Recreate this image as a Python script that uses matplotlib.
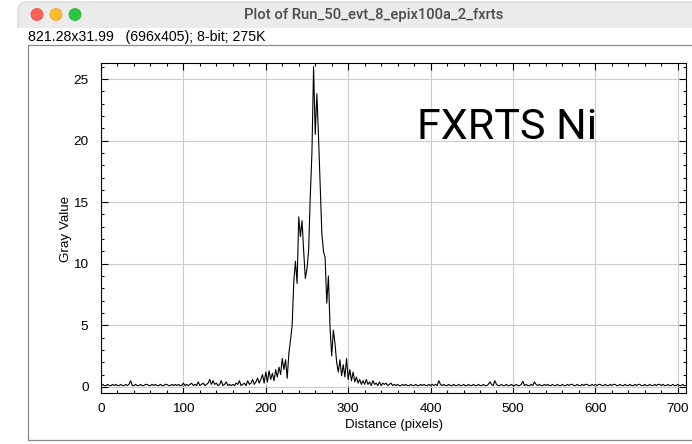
"""
ImageJ-style profile plot window: Run_50_evt_8_epix100a_2_fxrts (FXRTS Ni).
"""

import matplotlib
matplotlib.use("Agg")
import matplotlib.pyplot as plt
import numpy as np
from matplotlib.patches import Rectangle, Circle, FancyBboxPatch
from matplotlib.ticker import MultipleLocator

W, H, DPI = 692, 444, 100

# --- profile data (every 2 px) ---
distance = np.arange(0, 712, 2)
gray_value = [
    0.1, 0.2, 0.1, 0.1, 0.2, 0.1, 0.1, 0.2, 0.1, 0.2, 0.1, 0.1, 0.2, 0.1, 0.1, 0.2, 0.1, 0.2, 0.5, 0.1,
    0.1, 0.2, 0.1, 0.1, 0.2, 0.1, 0.1, 0.2, 0.2, 0.1, 0.1, 0.2, 0.1, 0.2, 0.1, 0.1, 0.2, 0.1, 0.1, 0.2,
    0.2, 0.1, 0.1, 0.2, 0.1, 0.2, 0.1, 0.2, 0.1, 0.1, 0.3, 0.1, 0.2, 0.1, 0.2, 0.3, 0.1, 0.2, 0.1, 0.4,
    0.1, 0.2, 0.3, 0.1, 0.2, 0.3, 0.6, 0.2, 0.5, 0.2, 0.3, 0.1, 0.2, 0.5, 0.1, 0.2, 0.4, 0.1, 0.2, 0.1,
    0.2, 0.1, 0.3, 0.2, 0.5, 0.1, 0.2, 0.3, 0.1, 0.5, 0.2, 0.3, 0.6, 0.2, 0.4, 0.7, 0.3, 0.6, 1.0, 0.3,
    1.2, 0.4, 1.3, 0.6, 1.1, 0.5, 1.4, 0.8, 1.6, 1.0, 2.3, 1.4, 2.2, 0.7, 2.7, 3.8, 5.0, 8.6, 10.2, 8.4,
    13.8, 12.2, 13.5, 11.0, 8.8, 9.6, 11.1, 15.5, 19.0, 26.0, 20.5, 23.8, 20.3, 16.5, 12.5, 11.0, 10.5, 6.8, 9.0, 4.8,
    2.5, 4.6, 3.5, 2.0, 1.2, 2.2, 0.9, 1.8, 0.8, 2.3, 0.6, 1.4, 0.5, 1.2, 0.4, 0.8, 0.3, 0.6, 0.2, 0.5,
    0.2, 0.6, 0.2, 0.4, 0.1, 0.5, 0.2, 0.3, 0.1, 0.4, 0.1, 0.3, 0.2, 0.3, 0.1, 0.2, 0.3, 0.1, 0.2, 0.1,
    0.2, 0.1, 0.1, 0.2, 0.1, 0.2, 0.1, 0.1, 0.2, 0.1, 0.1, 0.2, 0.1, 0.1, 0.2, 0.1, 0.2, 0.1, 0.1, 0.2,
    0.1, 0.2, 0.1, 0.2, 0.1, 0.5, 0.2, 0.1, 0.2, 0.1, 0.1, 0.2, 0.1, 0.1, 0.2, 0.1, 0.1, 0.2, 0.1, 0.1,
    0.2, 0.1, 0.1, 0.2, 0.1, 0.1, 0.2, 0.1, 0.1, 0.2, 0.1, 0.1, 0.2, 0.1, 0.1, 0.2, 0.4, 0.2, 0.1, 0.5,
    0.2, 0.1, 0.1, 0.2, 0.1, 0.1, 0.2, 0.1, 0.1, 0.2, 0.1, 0.1, 0.2, 0.1, 0.1, 0.2, 0.45, 0.1, 0.2, 0.1,
    0.1, 0.2, 0.1, 0.4, 0.2, 0.1, 0.2, 0.1, 0.1, 0.2, 0.1, 0.2, 0.1, 0.1, 0.2, 0.1, 0.1, 0.2, 0.1, 0.1,
    0.2, 0.1, 0.1, 0.2, 0.1, 0.2, 0.2, 0.1, 0.1, 0.2, 0.1, 0.1, 0.2, 0.1, 0.2, 0.2, 0.1, 0.1, 0.2, 0.1,
    0.2, 0.1, 0.2, 0.2, 0.1, 0.1, 0.2, 0.1, 0.1, 0.2, 0.1, 0.2, 0.2, 0.1, 0.1, 0.2, 0.1, 0.1, 0.2, 0.1,
    0.1, 0.2, 0.1, 0.1, 0.2, 0.1, 0.2, 0.2, 0.1, 0.1, 0.2, 0.1, 0.1, 0.2, 0.1, 0.1, 0.2, 0.1, 0.2, 0.2,
    0.1, 0.2, 0.1, 0.1, 0.2, 0.1, 0.1, 0.2, 0.1, 0.1, 0.2, 0.1, 0.1, 0.2, 0.1, 0.1,
]

window_title = "Plot of Run_50_evt_8_epix100a_2_fxrts"
info_line = "821.28x31.99   (696x405); 8-bit; 275K"
annotation = "FXRTS Ni"

fig = plt.figure(figsize=(W / DPI, H / DPI), dpi=DPI)
fig.patch.set_facecolor("white")

# background layer in pixel coordinates for the window chrome
bg = fig.add_axes([0, 0, 1, 1])
bg.set_xlim(0, W)
bg.set_ylim(H, 0)
bg.axis("off")

bg.add_patch(FancyBboxPatch((18, 2), W + 20, 40, boxstyle="round,pad=0,rounding_size=9",
                            fc="#ebebeb", ec="#d4d4d4", lw=0.8))
bg.add_patch(Rectangle((0, 28), W, H, fc="white", ec="none"))
for cx, col, edge in [(37, "#fe5f57", "#e0443e"), (56, "#febc2e", "#dea123"),
                      (75, "#28c840", "#1aab29")]:
    bg.add_patch(Circle((cx, 14.5), 6, fc=col, ec=edge, lw=0.5))
bg.text(374, 15, window_title, ha="center", va="center", fontsize=10.6,
        color="#4b4b4b", family="Roboto", fontweight="medium")
bg.text(28, 37, info_line, ha="left", va="center", fontsize=10.2,
        color="black", family="Liberation Sans")
bg.plot([27.5, 27.5, W], [439.5, 45.5, 45.5], color="#8a8a8a", lw=0.9)
bg.plot([27.5, W], [439.5, 439.5], color="#8a8a8a", lw=0.9)

# plot area
left, right, top, bottom = 101, 686, 63, 393
ax = fig.add_axes([left / W, 1 - bottom / H, (right - left) / W, (bottom - top) / H])
ax.plot(distance, gray_value, color="black", lw=0.8)
ax.set_xlim(0, 710)
ax.set_ylim(-0.5, 26.3)
ax.xaxis.set_major_locator(MultipleLocator(100))
ax.xaxis.set_minor_locator(MultipleLocator(20))
ax.yaxis.set_major_locator(MultipleLocator(5))
ax.yaxis.set_minor_locator(MultipleLocator(1))
ax.grid(True, which="major", color="#cccccc", lw=0.8)
ax.set_axisbelow(True)
ax.tick_params(which="both", direction="in", top=True, right=True, width=0.8,
               labelsize=9.7, colors="black")
ax.tick_params(which="major", length=5)
ax.tick_params(which="minor", length=2.5)
ax.tick_params(axis="x", pad=7)
ax.tick_params(axis="y", pad=9)
for lab in ax.get_xticklabels() + ax.get_yticklabels():
    lab.set_family("Liberation Sans")
for s in ax.spines.values():
    s.set_linewidth(0.8)

# big annotation sits on top of the plot area
fig.text(417 / W, 1 - 139 / H, annotation, fontsize=31, family="Roboto",
         ha="left", va="baseline", color="black")

bg.text(66, 229, "Gray Value", rotation=90, ha="center", va="center",
        fontsize=9.6, family="Liberation Sans")
bg.text(394, 425, "Distance (pixels)", ha="center", va="center",
        fontsize=9.5, family="Liberation Sans")

fig.savefig("out.png", dpi=DPI)
